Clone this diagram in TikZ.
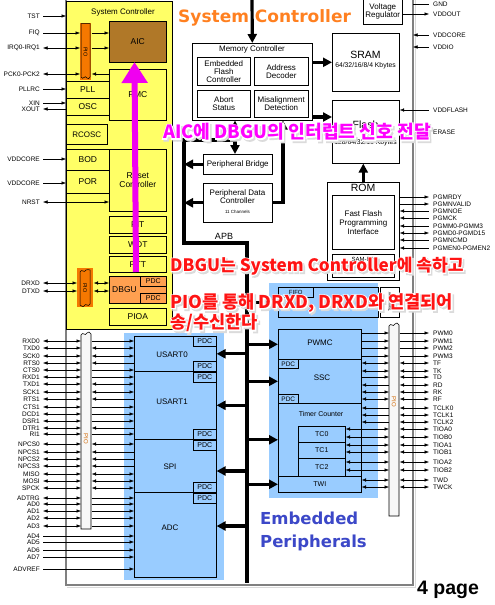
\documentclass[tikz,border=0pt]{standalone}
\usepackage{fontspec}
\setmainfont{Liberation Sans}
\newfontfamily\djv{DejaVu Sans}
\newfontfamily\krf{Noto Sans CJK KR}
\newfontfamily\krglow{Noto Sans CJK KR}[FakeBold=11, BoldFeatures={FakeBold=11}]
\usetikzlibrary{arrows.meta,calc}
\definecolor{scyellow}{RGB}{255,255,102}
\definecolor{aicbrown}{RGB}{176,120,40}
\definecolor{pioorange}{RGB}{245,120,0}
\definecolor{dbguorange}{RGB}{255,160,80}
\definecolor{perblue}{RGB}{153,204,255}
\definecolor{framegray}{RGB}{128,128,128}
\definecolor{titleorange}{RGB}{255,128,32}
\definecolor{titleblue}{RGB}{60,72,200}
\definecolor{magarrow}{RGB}{240,0,240}
\definecolor{magtxt}{RGB}{255,0,255}
\definecolor{redtxt}{RGB}{255,20,20}
\newcommand{\fsz}[1]{\fontsize{#1}{#1}\selectfont}
\tikzset{
  blk/.style={draw, line width=0.6pt, inner sep=0pt, align=center, font=\fsz{8}},
  sigl/.style={anchor=east, inner sep=0pt, font=\fsz{6.5}},
  sigr/.style={anchor=west, inner sep=0pt, font=\fsz{6.5}},
  ln/.style={line width=0.5pt},
  ar/.style={line width=0.5pt, -{Latex[length=4.5pt,width=3.5pt]}},
  arl/.style={line width=0.5pt, {Latex[length=4.5pt,width=3.5pt]}-},
  dar/.style={line width=0.5pt, {Latex[length=4.5pt,width=3.5pt]}-{Latex[length=4.5pt,width=3.5pt]}},
  tR/.style={ar}, tL/.style={arl}, tB/.style={dar},
  bus/.style={line width=3.2pt},
  busar/.style={line width=3.2pt, -{Triangle[length=9pt,width=9pt]}},
  busdar/.style={line width=3.2pt, {Triangle[length=9pt,width=9pt]}-{Triangle[length=9pt,width=9pt]}},
  txt/.style={inner sep=0pt, font=\fsz{8}, align=center}
}
\newcommand{\bx}[7]{\node[blk,anchor=north west,minimum width=#4pt,minimum height=#5pt,#6] (#1) at (#2,#3) {#7};}
% #1 name, #2 position, #3 colour, #4 size, #5 text
\newcommand{\glowtxt}[5]{%
  \node[anchor=west,inner sep=0pt,text=gray!28,font=\krglow\bfseries\fsz{#4}] at ($(#2)+(1.6,1.8)$) {#5};
  \node[anchor=west,inner sep=0pt,text=white,font=\krglow\bfseries\fsz{#4}] at (#2) {#5};
  \node[anchor=west,inner sep=0pt,text=#3,font=\krf\bfseries\fsz{#4}] (#1) at (#2) {#5};}
\begin{document}
\begin{tikzpicture}[x=1pt,y=-1pt]
\useasboundingbox (0,0) rectangle (495,605);
\fill[white] (0,0) rectangle (495,605);

% outer frame
\draw[gray!30, line width=1pt] (67,587) -- (415,587) -- (415,-2);
\draw[framegray, line width=1.2pt] (66,-2) -- (66,585) -- (413,585) -- (413,-2);
\coordinate (frx) at (413,0);

% ---------------- System Controller ----------------
\bx{scbox}{66}{1}{106}{328}{fill=scyellow}{}
\node[txt] (sctitle) at (123,12) {System Controller};
\bx{aic}{109}{21}{57}{41}{fill=aicbrown,font=\fsz{8.5}}{AIC}
\bx{pmc}{109}{69}{57}{51}{font=\fsz{8.5}}{PMC}
\bx{pll}{66}{81}{43}{17}{font=\fsz{8.5}}{PLL}
\bx{osc}{66}{98}{43}{17}{font=\fsz{8.5}}{OSC}
\bx{rcosc}{66}{124}{41}{20}{}{RCOSC}
\bx{bod}{66}{149}{43}{21}{font=\fsz{8.5}}{BOD}
\bx{por}{66}{170}{43}{23}{font=\fsz{8.5}}{POR}
\bx{rstc}{109}{149}{57}{62}{font=\fsz{8.5}}{Reset\\Controller}
\bx{pit}{109}{216}{57}{17}{font=\fsz{8.5}}{PIT}
\bx{wdt}{109}{236}{57}{17}{font=\fsz{8.5}}{WDT}
\bx{rtt}{109}{256}{57}{16}{font=\fsz{8.5}}{RTT}
\bx{dbgu}{109}{276}{57}{27}{fill=dbguorange}{}
\node[txt, font=\fsz{8.5}] (dbgutxt) at (124.5,289.5) {DBGU};
\bx{dpdc1}{140}{276}{26}{10}{font=\fsz{7}}{PDC}
\bx{dpdc2}{140}{293}{26}{10}{font=\fsz{7}}{PDC}
\bx{pioa}{109}{308}{57}{17}{font=\fsz{8.5}}{PIOA}

% PIO symbols in the system controller
\bx{pio1}{80}{23}{11}{57}{draw=none,fill=pioorange}{}
\draw[line width=0.5pt, fill=pioorange] (81,23.5) -- (81,77) .. controls (83,81) and (85,74) .. (87,78) .. controls (88,80) and (89.5,78) .. (90,77) -- (90,23.5) -- cycle;
\node[rotate=-90, font=\fsz{5.5}] (pio1txt) at (85.5,52) {PIO};
\bx{pio2}{77}{268}{16}{39}{draw=none,fill=pioorange}{}
\draw[line width=0.5pt, fill=pioorange] (80,272) .. controls (82,268) and (84,274) .. (86,270) .. controls (87,268) and (89,271) .. (90,270) -- (90,304) .. controls (88,308) and (86,302) .. (84,306) .. controls (83,308) and (81,305) .. (80,305) -- cycle;
\node[rotate=-90, font=\fsz{5.5}] (pio2txt) at (85,288) {PIO};

% system controller signals
\foreach \nm/\lab/\yy/\st/\tx in {tst/TST/16/ar/66, fiq/FIQ/33/ar/80, irq/IRQ0-IRQ1/48/dar/80, pck/PCK0-PCK2/74/dar/80, pllrc/PLLRC/89/ar/66, xin/XIN/103/ar/66, xout/XOUT/109/arl/66, vdca/VDDCORE/159/ar/66, vdcb/VDDCORE/183/ar/66, nrst/NRST/202/dar/109, drxd/DRXD/283/dar/77, dtxd/DTXD/291/dar/77}
{
  \node[sigl] (s\nm) at (40,\yy) {\lab};
  \coordinate (e\nm) at (\tx,\yy);
  \draw[\st] ($(s\nm.east)+(3,0)$) -- (e\nm);
}
\draw[ar] (pio1.east |- sfiq) -- (aic.west |- sfiq);
\draw[ar] (pio1.east |- sirq) -- (aic.west |- sirq);
\draw[ar] (pmc.west |- spck) -- (pio1.east |- spck);
\draw[dar] (pio2.east |- sdrxd) -- (dbgu.west |- sdrxd);
\draw[dar] (pio2.east |- sdtxd) -- (dbgu.west |- sdtxd);

% ---------------- Memory side ----------------
\bx{memc}{192}{43}{120}{77}{}{}
\node[txt] (memctitle) at (252,49) {Memory Controller};
\bx{efc}{197}{57}{53}{28}{}{Embedded\\Flash\\Controller}
\bx{adec}{254}{57}{54}{28}{}{Address\\Decoder}
\bx{abort}{197}{90}{53}{27}{}{Abort\\Status}
\bx{misal}{254}{90}{54}{27}{}{Misalignment\\Detection}
\bx{sram}{332}{33}{67}{58}{}{}
\node[txt, font=\fsz{10.5}] (sramt) at (365.5,55) {SRAM};
\node[txt, font=\fsz{6.8}] (sramk) at (365.5,66) {64/32/16/8/4 Kbytes};
\bx{flash}{332}{100}{67}{63}{}{}
\node[txt, font=\fsz{10.5}] (flasht) at (365.5,125) {Flash};
\node[txt, font=\fsz{6.8}] (flashk) at (365.5,143) {128/64/32/16 Kbytes};
\bx{vreg}{363}{-1}{39}{25}{}{Voltage\\Regulator}
\bx{rom}{327}{182}{72}{98}{}{}
\node[txt, font=\fsz{10.5}] (romt) at (363,188) {ROM};
\bx{ffpi}{332}{195}{62}{54}{font=\fsz{8},execute at begin node={\setlength{\baselineskip}{9pt}}}{Fast Flash\\Programming\\Interface}
\bx{samba}{332}{254}{62}{23}{}{}
\node[txt, font=\fsz{6}] (sambat) at (363,259.5) {SAM-BA};
\bx{pbridge}{203}{154}{69}{20}{}{Peripheral Bridge}
\bx{pdcc}{203}{183}{69}{39}{}{}
\node[txt] (pdcct) at (237.5,197) {Peripheral Data\\Controller};
\node[txt, font=\fsz{4.5}] (pdccn) at (237.5,212) {11 Channels};

% buses
\coordinate (mtop) at (252,-4);
\draw[busar] (mtop) -- (memc.north);
\draw[busar] (memc.east |- sram.west) -- (sram.west);
\draw[busar] (memc.east |- 0,117) -- (flash.west |- 0,117);
\draw[busar] (rom.north) -- (flash.south -| rom.north);
\draw[busdar] (memc.south -| 235,0) -- (pbridge.north -| 235,0);
\draw[busar] (pdcc.east) -| (memc.south -| 283,0);
\coordinate (apbtop) at (184,140);
\coordinate (apbc1) at (184,243);
\coordinate (apbc2) at (247,243);
\coordinate (apbbot) at (247,583);
\draw[bus, line cap=butt] (235,140) -- (apbtop) -- (apbc1) -- (apbc2) -- (apbbot);
\node[txt, font=\fsz{9}] (apbt) at (224,236) {APB};
\draw[busar] (pbridge.west) -- (pbridge.west -| apbtop);
\draw[busar] (pdcc.west) -- (pdcc.west -| apbtop);

% ---------------- Peripherals (left) ----------------
\bx{bluel}{124}{333}{100}{247}{draw=none,fill=perblue}{}
\bx{usart0}{134}{336}{82}{35}{}{}
\bx{usart1}{134}{371}{82}{68}{}{}
\bx{spi}{134}{439}{82}{53}{}{}
\bx{adc}{134}{492}{82}{85}{}{}
\node[txt] (usart0t) at (172,355) {USART0};
\node[txt] (usart1t) at (172,402) {USART1};
\node[txt] (spit) at (170,467) {SPI};
\node[txt] (adct) at (170,528) {ADC};
\bx{u0pa}{193}{336}{23}{10}{font=\fsz{7}}{PDC}
\bx{u0pb}{193}{361}{23}{10}{font=\fsz{7}}{PDC}
\bx{u1pa}{193}{372}{23}{10}{font=\fsz{7}}{PDC}
\bx{u1pb}{193}{429}{23}{10}{font=\fsz{7}}{PDC}
\bx{sppa}{193}{440}{23}{10}{font=\fsz{7}}{PDC}
\bx{sppb}{193}{482}{23}{10}{font=\fsz{7}}{PDC}
\bx{adpa}{193}{493}{23}{10}{font=\fsz{7}}{PDC}

% left PIO bar
\bx{pioL}{81}{333}{10}{196}{draw=none}{}
\draw[line width=0.6pt, fill=gray!6] (81,529) -- (81,335) .. controls (83,331) and (85,337) .. (87,333) .. controls (88,331) and (90,332) .. (91,334) -- (91,529) -- cycle;
\node[rotate=-90, font=\fsz{6}, text=pioorange!85!black] (pioLt) at (86,439) {PIO};

\foreach \lab/\yy/\dir in {RXD0/341/R, TXD0/348/B, SCK0/356/B, RTS0/363/L, CTS0/370/R, RXD1/377/R, TXD1/384/B, SCK1/392/B, RTS1/399/L, CTS1/407/R, DCD1/414/R, DSR1/421/R, DTR1/428/L, RI1/434/R, NPCS0/444/B, NPCS1/452/L, NPCS2/459/L, NPCS3/466/L, MISO/474/B, MOSI/481/B, SPCK/488/B, ADTRG/498/R, AD0/504/R, AD1/511/R, AD2/518/R, AD3/526/R}
{
  \node[sigl] (s\lab) at (40,\yy) {\lab};
  \draw[dar] ($(s\lab.east)+(3,0)$) -- (pioL.west |- s\lab);
  \draw[t\dir] (pioL.east |- s\lab) -- (usart0.west |- s\lab);
}
\foreach \lab/\yy in {AD4/536, AD5/542, AD6/550, AD7/557, ADVREF/569}
{
  \node[sigl] (s\lab) at (40,\yy) {\lab};
  \draw[ar] ($(s\lab.east)+(3,0)$) -- (adc.west |- s\lab);
}

% ---------------- Peripherals (right) ----------------
\bx{bluer}{269}{283}{109}{215}{draw=none,fill=perblue}{}
\bx{usb}{278}{287}{100}{30}{}{}
\bx{fifo}{278}{287}{35}{10}{font=\fsz{6}}{FIFO}
\bx{xcvr}{380}{287}{19}{30}{}{}
\node[rotate=90, font=\fsz{3.8}] (xcvrt) at (389.5,302) {Transceiver};
\bx{pwmc}{278}{329}{83}{30}{}{}
\node[txt] (pwmct) at (320,343) {PWMC};
\bx{ssc}{278}{359}{83}{44}{}{}
\node[txt] (ssct) at (322,378) {SSC};
\bx{sscpa}{278}{359}{20}{9}{font=\fsz{6.5}}{PDC}
\bx{sscpb}{278}{394}{20}{9}{font=\fsz{6.5}}{PDC}
\bx{tcc}{278}{403}{83}{73}{}{}
\node[txt, font=\fsz{7}] (tcct) at (321,414) {Timer Counter};
\bx{tc0}{298}{426}{47}{16}{font=\fsz{7}}{TC0}
\bx{tc1}{298}{442}{47}{16}{font=\fsz{7}}{TC1}
\bx{tc2}{298}{458}{47}{18}{font=\fsz{7}}{TC2}
\bx{twi}{278}{476}{83}{16}{font=\fsz{7}}{TWI}

% bus arrows to peripherals
\draw[busar] (apbbot |- usb.west) -- (usb.west);
\draw[busar] (apbbot |- pwmc.west) -- (pwmc.west);
\draw[busar] (apbbot |- ssc.west) -- (ssc.west);
\draw[busar] (apbbot |- tcc.west) -- (tcc.west);
\draw[busar] (apbbot |- twi.west) -- (twi.west);
\draw[busar] (apbbot |- usart0.east) -- (usart0.east);
\draw[busar] (apbbot |- usart1.east) -- (usart1.east);
\draw[busar] (apbbot |- 0,471) -- (spi.east |- 0,471);
\draw[busar] (apbbot |- 0,526) -- (adc.east |- 0,526);

% right PIO bar
\bx{pioR}{389}{324}{10}{192}{draw=none}{}
\draw[line width=0.6pt, fill=gray!6] (389,516) -- (389,326) .. controls (391,322) and (393,328) .. (395,324) .. controls (396,322) and (398,323) .. (399,325) -- (399,516) -- cycle;
\node[rotate=-90, font=\fsz{6}, text=pioorange!85!black] (pioRt) at (394,402) {PIO};

\foreach \lab/\yy/\src/\da/\db in {PWM0/333/pwmc/R/R, PWM1/341/pwmc/R/R, PWM2/348/pwmc/R/R, PWM3/356/pwmc/R/R, TF/363/ssc/B/B, TK/371/ssc/B/B, TD/377/ssc/R/B, RD/385/ssc/L/B, RK/392/ssc/B/B, RF/399/ssc/B/B, TCLK0/408/tcc/L/B, TCLK1/415/tcc/L/B, TCLK2/422/tcc/L/B, TIOA0/429/tc0/B/B, TIOB0/437/tc0/B/B, TIOA1/445/tc1/B/B, TIOB1/452/tc1/B/B, TIOA2/462/tc2/B/B, TIOB2/470/tc2/B/B, TWD/480/twi/B/B, TWCK/487/twi/B/B}
{
  \node[sigr] (r\lab) at (433,\yy) {\lab};
  \draw[t\da] (\src.east |- r\lab) -- (pioR.west |- r\lab);
  \draw[t\db] (pioR.east |- r\lab) -- ($(r\lab.west)+(-4,0)$);
}

% top right signals
\node[sigr] (rgnd) at (433,4) {GND};
\node[sigr] (rvddout) at (433,14) {VDDOUT};
\node[sigr] (rvddcore) at (433,35) {VDDCORE};
\node[sigr] (rvddio) at (433,47) {VDDIO};
\node[sigr] (rvddflash) at (433,110) {VDDFLASH};
\node[sigr] (rerase) at (433,132) {ERASE};
\draw[ln] (frx |- rgnd) -- ($(rgnd.west)+(-4,0)$);
\draw[ar] (vreg.east |- rvddout) -- ($(rvddout.west)+(-4,0)$);
\draw[arl] (frx |- rvddcore) -- ($(rvddcore.west)+(-4,0)$);
\draw[arl] (frx |- rvddio) -- ($(rvddio.west)+(-4,0)$);
\draw[arl] (flash.east |- rvddflash) -- ($(rvddflash.west)+(-4,0)$);
\draw[arl] (flash.east |- rerase) -- ($(rerase.west)+(-4,0)$);
\foreach \nm/\lab/\yy/\dir in {prdy/PGMRDY/197/R, pnv/PGMNVALID/204/R, pnoe/PGMNOE/211/L, pck/PGMCK/218/L, pm/PGMM0-PGMM3/226/L, pd/PGMD0-PGMD15/233/B, pncmd/PGMNCMD/240/L, pen/PGMEN0-PGMEN2/248/L}
{
  \node[sigr] (r\nm) at (433,\yy) {\lab};
  \draw[t\dir] (rom.east |- r\nm) -- ($(r\nm.west)+(-4,0)$);
}

% ---------------- titles ----------------
\node[anchor=base west, inner sep=0pt, text=titleorange, font=\djv\bfseries\fsz{17}] (title1) at (178,23) {System Controller};
\node[anchor=base west, inner sep=0pt, text=titleblue, font=\djv\bfseries\fsz{16.5}] (title2a) at (260,524) {Embedded};
\node[anchor=base west, inner sep=0pt, text=titleblue, font=\djv\bfseries\fsz{16.5}] (title2b) at (260,547) {Peripherals};
\node[anchor=base west, inner sep=0pt, font=\bfseries\fsz{19.5}] (pagenum) at (417,594) {4 page};

% ---------------- annotations ----------------
\coordinate (magtail) at (136,272);
\coordinate (magtip) at (134.5,62);
\draw[magarrow, line width=6pt, -{Triangle[length=21pt,width=25pt]}] (magtail) -- (magtip);

\glowtxt{note1}{163,132}{magtxt}{18.2}{AIC에 DBGU의 인터럽트 신호 전달}
\glowtxt{note2}{170,266}{redtxt}{17.1}{DBGU는 System Controller에 속하고}
\glowtxt{note3}{170,303}{redtxt}{17.6}{PIO를 통해 DRXD, DRXD와 연결되어}
\glowtxt{note4}{170,323}{redtxt}{17.6}{송/수신한다}
\end{tikzpicture}
\end{document}
